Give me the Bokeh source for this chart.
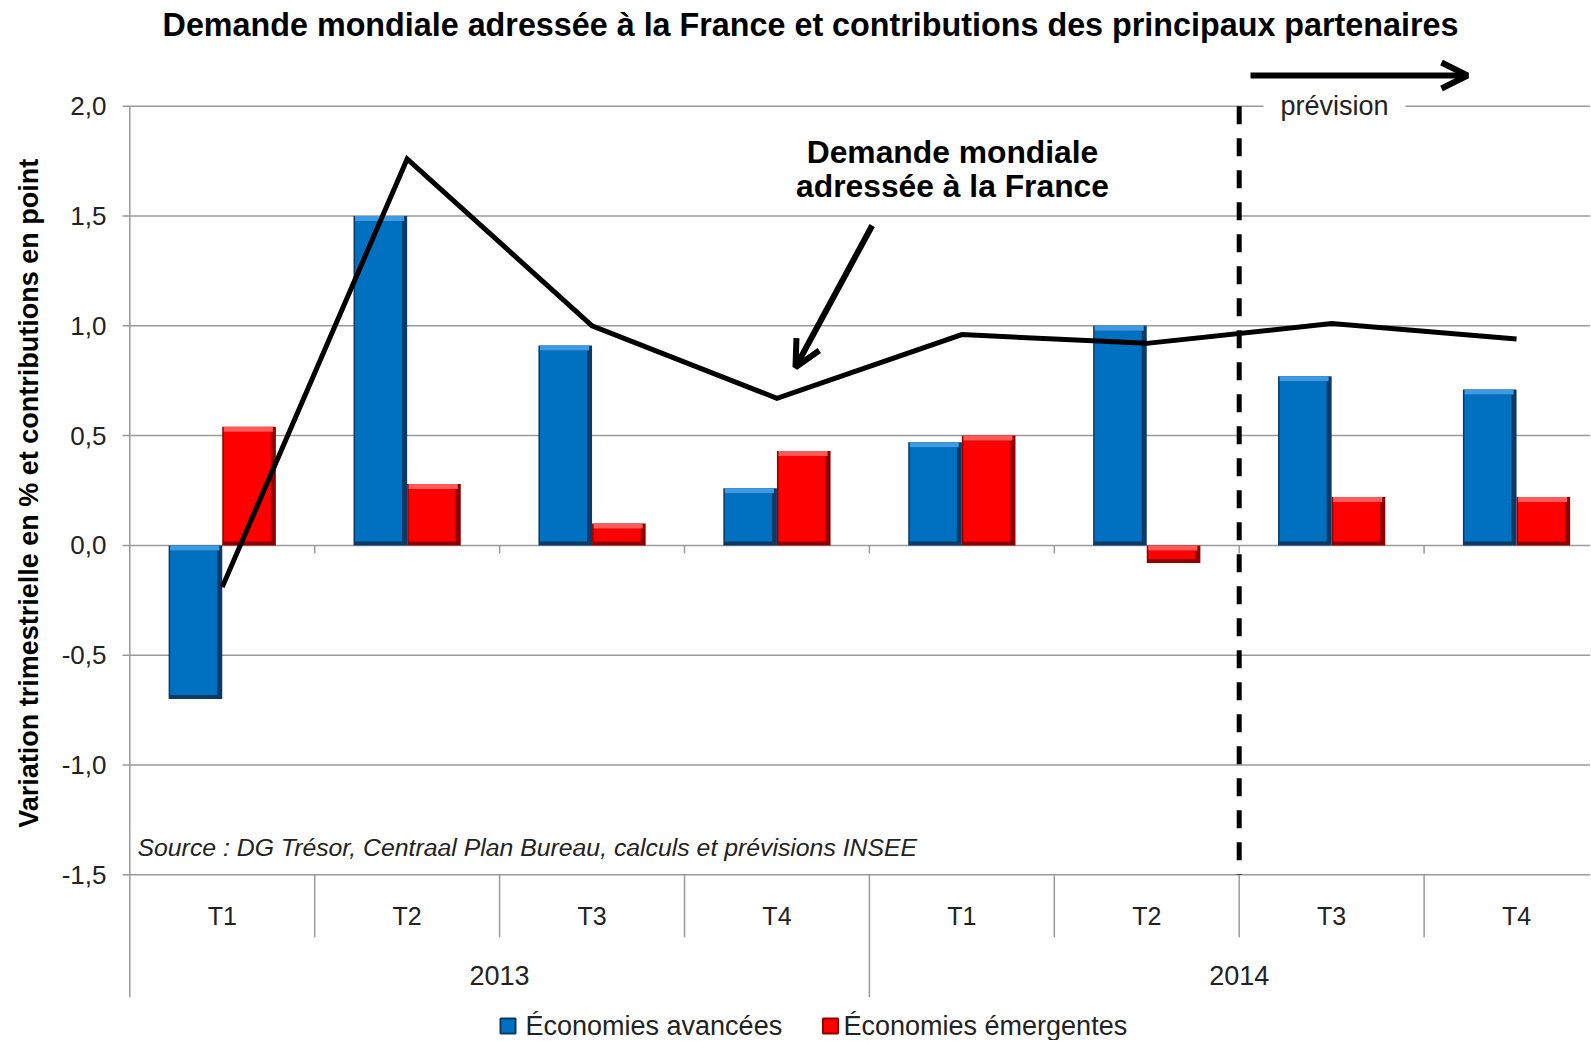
import math
from bokeh.plotting import figure
from bokeh.models import Range1d, Arrow, OpenHead
from bokeh.core.properties import value
from bokeh.embed import file_html
from bokeh.resources import INLINE

# ---------------- data ----------------
quarters = ["T1", "T2", "T3", "T4", "T1", "T2", "T3", "T4"]
years = ["2013", "2014"]
avancees = [-0.70, 1.50, 0.91, 0.26, 0.47, 1.00, 0.77, 0.71]
emergentes = [0.54, 0.28, 0.10, 0.43, 0.50, -0.08, 0.22, 0.22]
demande = [-0.19, 1.76, 1.00, 0.67, 0.96, 0.92, 1.01, 0.94]
y_ticks = [-1.5, -1.0, -0.5, 0.0, 0.5, 1.0, 1.5, 2.0]
tick_labels = [f"{t:.1f}".replace(".", ",") for t in y_ticks]
forecast_start = 6  # first forecast quarter index

title_text = "Demande mondiale adressée à la France et contributions des principaux partenaires"
ylabel_text = "Variation trimestrielle  en % et contributions en point"
source_text = "Source : DG Trésor, Centraal Plan Bureau,  calculs et prévisions INSEE"
annot_lines = ["Demande mondiale", "adressée à la France"]
prev_text = "prévision"
legend_labels = ["Économies avancées", "Économies émergentes"]

BLUE, BLUE_D, BLUE_L = "#0070C0", "#0B3A66", "#3C9BE2"
RED, RED_D, RED_L = "#FF0000", "#8E0000", "#FF5A5A"
GRID = "#9a9a9a"
TXT = "#222222"
FONT = "Liberation Sans"

# ---------------- layout (page pixels) ----------------
CANVAS_W = 1590
CANVAS_H = 1040
FRAME_LEFT = 129.3     # pixel of x = 0 (left axis)
CAT_W = 184.9
Y_TOP_PX = 105.7       # pixel of y = 2.0
PX_PER_UNIT = 219.6


def X(px):
    return (px - FRAME_LEFT) / CAT_W


def Y(py):
    return 2.0 - (py - Y_TOP_PX) / PX_PER_UNIT


DX = 1.0 / CAT_W
DY = 1.0 / PX_PER_UNIT

p = figure(frame_width=CANVAS_W, frame_height=CANVAS_H,
           min_border_left=0, min_border_right=0,
           min_border_top=0, min_border_bottom=0,
           x_range=Range1d(X(0), X(CANVAS_W)),
           y_range=Range1d(Y(CANVAS_H), Y(0)),
           x_axis_location=None, y_axis_location=None,
           output_backend="svg", toolbar_location=None)
p.outline_line_color = None
p.background_fill_color = "white"
p.border_fill_color = "white"
p.grid.visible = False

n = len(quarters)
centers = [i + 0.5 for i in range(n)]
y_min, y_max = min(y_ticks), max(y_ticks)

# horizontal grid lines (with outward ticks)
p.segment(x0=[X(122)] * len(y_ticks), y0=y_ticks, x1=[X(CANVAS_W)] * len(y_ticks),
          y1=y_ticks, line_color=GRID, line_width=1.5)
# left axis line
p.segment(x0=[0], y0=[y_max], x1=[0], y1=[Y(996.7)], line_color=GRID, line_width=1.5)
# y tick labels
p.text(x=[X(106)] * len(y_ticks), y=y_ticks, text=tick_labels, text_align="right",
       text_baseline="middle", text_font=value(FONT), text_font_size="26px",
       text_color=TXT)

# category separators below the plot
sep_x = [k for k in range(1, n)]
sep_bottom = [Y(996.7) if k % 4 == 0 else Y(936.7) for k in sep_x]
p.segment(x0=sep_x, y0=[y_min] * len(sep_x), x1=sep_x, y1=sep_bottom,
          line_color=GRID, line_width=1.5)
# small ticks on zero line
p.segment(x0=sep_x, y0=[0.0] * len(sep_x), x1=sep_x, y1=[-8 * DY] * len(sep_x),
          line_color=GRID, line_width=1.5)

BW = 0.29


def bevel_bars(lefts, rights, vals, main, dark, light):
    tops = [max(v, 0.0) for v in vals]
    bots = [min(v, 0.0) for v in vals]
    p.quad(left=lefts, right=rights, top=tops, bottom=bots,
           fill_color=dark, line_color=None)
    p.quad(left=[l + 1.5 * DX for l in lefts], right=[r - 5 * DX for r in rights],
           top=[t - 5 * DY for t in tops], bottom=[b + 4 * DY for b in bots],
           fill_color=main, line_color=None)
    p.quad(left=[l + 1.5 * DX for l in lefts], right=[r - 3 * DX for r in rights],
           top=tops, bottom=[t - 5 * DY for t in tops],
           fill_color=light, line_color=None)


bevel_bars([c - BW for c in centers], centers, avancees, BLUE, BLUE_D, BLUE_L)
bevel_bars(centers, [c + BW for c in centers], emergentes, RED, RED_D, RED_L)

# demande mondiale line
p.line(x=centers, y=demande, line_color="black", line_width=5, line_join="miter")

# forecast dashed line
p.segment(x0=[forecast_start], y0=[y_max], x1=[forecast_start], y1=[y_min],
          line_color="black", line_width=5, line_dash="18 14")

# prévision label with white box over grid line
p.rect(x=[X(1334)], y=[y_max], width=142, height=26, width_units="screen",
       height_units="screen", fill_color="white", line_color=None)
p.text(x=[X(1334)], y=[y_max], text=[prev_text], text_align="center",
       text_baseline="middle", text_font=value(FONT), text_font_size="27px",
       text_color=TXT)
p.add_layout(Arrow(end=OpenHead(size=26, line_width=6, line_color="black"),
                   x_start=X(1250), y_start=Y(75), x_end=X(1467), y_end=Y(75),
                   line_width=6, line_color="black"))

# title
p.text(x=[X(810)], y=[Y(24.4)], text=[title_text], text_align="center",
       text_baseline="middle", text_font=value(FONT), text_font_style="bold",
       text_font_size="32.3px", text_color="black")

# annotation
p.text(x=[X(952), X(952)], y=[Y(151.7), Y(185)], text=annot_lines,
       text_align="center", text_baseline="middle", text_font=value(FONT),
       text_font_style="bold", text_font_size="31.8px", text_color="black")
p.add_layout(Arrow(end=OpenHead(size=26, line_width=6, line_color="black"),
                   x_start=X(871.7), y_start=Y(225), x_end=X(795), y_end=Y(366.7),
                   line_width=6, line_color="black"))

# source
p.text(x=[X(137)], y=[Y(847)], text=[source_text], text_align="left",
       text_baseline="middle", text_font=value(FONT), text_font_style="italic",
       text_font_size="24.8px", text_color=TXT)

# category labels
p.text(x=centers, y=[Y(915)] * n, text=quarters, text_align="center",
       text_baseline="middle", text_font=value(FONT), text_font_size="25px",
       text_color=TXT)
p.text(x=[4 * g + 2 for g in range(len(years))], y=[Y(975)] * len(years), text=years,
       text_align="center", text_baseline="middle", text_font=value(FONT),
       text_font_size="27px", text_color=TXT)

# legend
p.rect(x=[X(507.5), X(830)], y=[Y(1025.5)] * 2, width=15, height=15,
       width_units="screen", height_units="screen",
       fill_color=[BLUE, RED], line_color=[BLUE_D, RED_D], line_width=2)
p.text(x=[X(525), X(843)], y=[Y(1025.5)] * 2, text=legend_labels,
       text_align="left", text_baseline="middle", text_font=value(FONT),
       text_font_size="27px", text_color=TXT)

# y axis title
p.text(x=[X(28.5)], y=[Y(489)], text=[ylabel_text], angle=math.pi / 2,
       text_align="center", text_baseline="middle", text_font=value(FONT),
       text_font_style="bold", text_font_size="27px", text_color="black")

open("out.html", "w").write(file_html(p, INLINE))
